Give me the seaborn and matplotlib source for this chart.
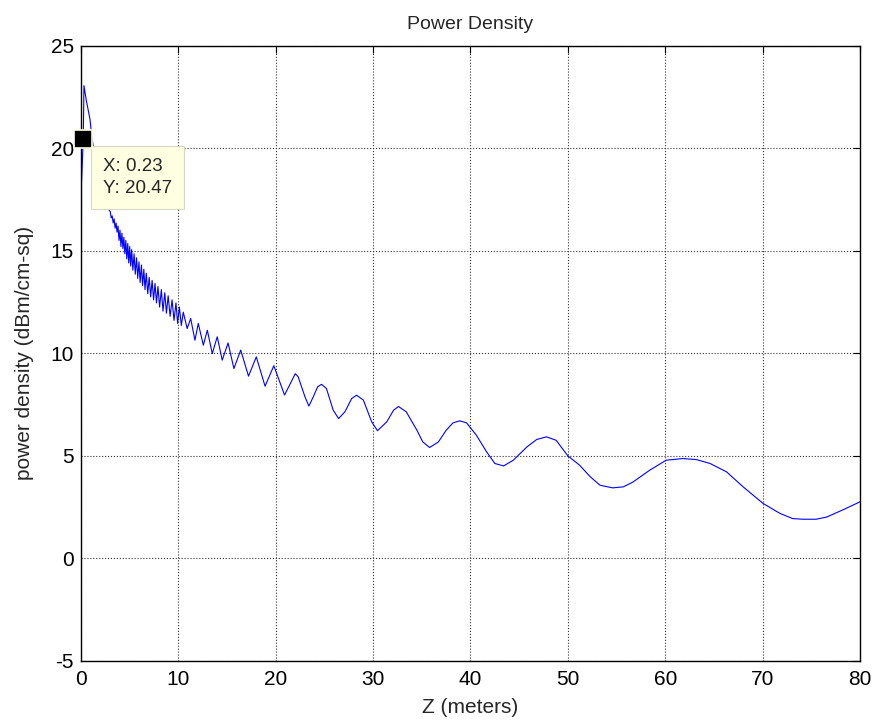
import numpy as np
import pandas as pd
import matplotlib
matplotlib.use('Agg')
import matplotlib.pyplot as plt
import seaborn as sns

sns.set_style('white')
plt.rcParams['font.family'] = ['Liberation Sans', 'DejaVu Sans']
plt.rcParams['axes.unicode_minus'] = False

# values (z in meters, power density in dBm/cm-sq)
z_near = [0.0, 0.05, 0.15, 0.23, 0.3, 0.45, 0.55, 0.7, 0.92, 1.1, 1.4, 1.7, 2.0, 2.3, 2.6,
          3.0, 3.1, 3.2, 3.3, 3.4, 3.5, 3.6, 3.7, 3.8, 3.9, 4.0, 4.1, 4.2, 4.3, 4.4, 4.5,
          4.6, 4.7, 4.8, 4.9, 5.0, 5.1, 5.2, 5.32, 5.45, 5.57, 5.7, 5.82, 5.95, 6.07,
          6.2, 6.32, 6.45, 6.57, 6.7, 6.85, 7.0, 7.15, 7.3, 7.45, 7.6, 7.75, 7.9, 8.07,
          8.25, 8.42, 8.6, 8.77, 8.95, 9.15, 9.35, 9.55, 9.75, 9.92, 10.1, 10.3]
p_near = [-6.0, 18.3, 19.5, 20.47, 23.05, 22.6, 22.3, 21.95, 21.4, 20.6, 19.6, 19.1, 18.3, 17.9, 17.2,
          16.9, 16.6, 16.7, 16.35, 16.55, 16.1, 16.35, 15.9, 16.2, 15.5, 16.0, 15.2, 15.85, 15.1, 15.65, 14.85,
          15.5, 14.6, 15.35, 14.4, 15.2, 14.25, 15.05, 14.05, 14.85, 13.85, 14.65, 13.65, 14.45, 13.45,
          14.3, 13.3, 14.1, 13.1, 13.9, 12.9, 13.7, 12.75, 13.55, 12.6, 13.4, 12.45, 13.25, 12.25,
          13.1, 12.05, 12.95, 11.95, 12.8, 11.8, 12.6, 11.6, 12.45, 11.45, 12.25, 11.35]

z_far = [10.5, 10.9, 11.26, 11.7, 12.04, 12.56, 12.97, 13.48, 13.99, 14.5, 15.1, 15.7,
         16.4, 17.2, 18.0, 18.9, 19.8, 20.9, 21.5, 22.0, 22.3, 23.0, 23.4, 23.85, 24.3,
         24.7, 25.2, 25.9, 26.45, 27.1, 27.8, 28.3, 29.0, 29.85, 30.45, 31.4, 32.1, 32.6,
         33.4, 34.5, 35.1, 35.8, 36.7, 37.5, 38.2, 38.9, 39.6, 40.6, 41.65, 42.5, 43.4,
         44.4, 45.8, 46.8, 47.8, 48.8, 50.0, 51.2, 52.3, 53.3, 54.6, 55.7, 56.7, 58.4,
         60.1, 61.8, 63.2, 64.6, 66.3, 68.0, 70.05, 71.8, 73.1, 74.2, 75.5, 76.6, 78.3, 80.0]
p_far = [12.0, 11.2, 11.69, 10.63, 11.45, 10.39, 11.12, 9.98, 10.8, 9.66, 10.5, 9.25,
         10.15, 8.88, 9.82, 8.39, 9.39, 7.96, 8.52, 9.0, 8.85, 7.87, 7.42, 7.87, 8.36,
         8.48, 8.28, 7.22, 6.81, 7.14, 7.79, 7.95, 7.71, 6.65, 6.22, 6.65, 7.22, 7.4,
         7.14, 6.24, 5.67, 5.4, 5.67, 6.24, 6.6, 6.7, 6.6, 6.0, 5.19, 4.62, 4.5,
         4.78, 5.43, 5.79, 5.92, 5.75, 4.99, 4.54, 3.97, 3.56, 3.43, 3.48, 3.72, 4.29,
         4.78, 4.86, 4.81, 4.62, 4.21, 3.48, 2.67, 2.18, 1.93, 1.9, 1.9, 2.01, 2.37, 2.75]

tip_x, tip_y = 0.23, 20.47
x_ticks = [0, 10, 20, 30, 40, 50, 60, 70, 80]
y_ticks = [-5, 0, 5, 10, 15, 20, 25]

df = pd.DataFrame({'z': z_near + z_far, 'p': p_near + p_far})

fig = plt.figure(figsize=(8.76, 7.27), dpi=100)
ax = fig.add_axes([0.0925, 0.0912, 0.8892, 0.846])

sns.lineplot(data=df, x='z', y='p', sort=False, estimator=None,
             color='#0000FF', linewidth=0.8, ax=ax)

ax.set_xlim(0, 80)
ax.set_ylim(-5, 25)
ax.set_xticks(x_ticks)
ax.set_yticks(y_ticks)
ax.grid(True, linestyle=':', color='#333333', linewidth=0.8)
ax.tick_params(direction='in', length=5, width=0.8, labelsize=15,
               top=True, right=True, colors='black')
ax.tick_params(axis='x', pad=7)
ax.tick_params(axis='y', pad=5)
for s in ax.spines.values():
    s.set_color('black')
    s.set_linewidth(1.0)

ax.set_title('Power Density', fontsize=14, pad=12)
ax.set_xlabel('Z (meters)', fontsize=15, labelpad=6)
ax.set_ylabel('power density (dBm/cm-sq)', fontsize=15, labelpad=12)

# data tip
ax.plot([tip_x], [tip_y], marker='s', markersize=13, color='black',
        markeredgecolor='#FFFFE1', markeredgewidth=1.2, zorder=6, clip_on=False)
ax.annotate(f'X: {tip_x}\nY: {tip_y}', xy=(tip_x, tip_y), xytext=(14, -14),
            textcoords='offset points', ha='left', va='top', fontsize=13.5,
            linespacing=1.35,
            bbox=dict(boxstyle='square,pad=0.65', facecolor='#FFFFE1',
                      edgecolor='#D8D8C8', linewidth=0.8), zorder=5)

fig.savefig('out.png', dpi=100)
